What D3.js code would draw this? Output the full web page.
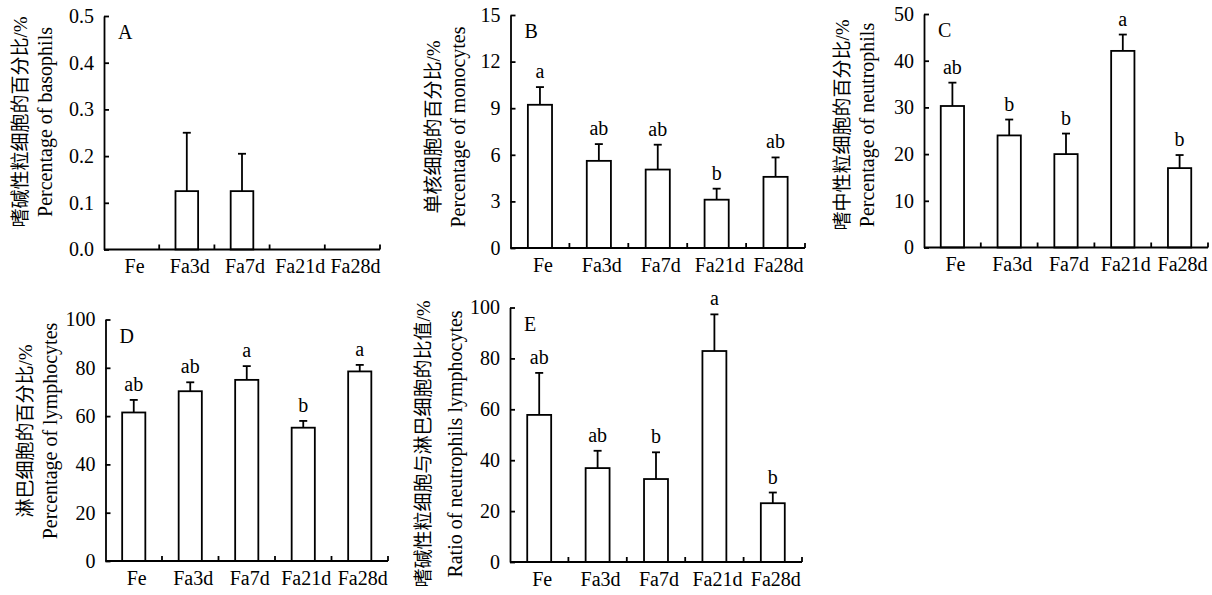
<!DOCTYPE html>
<html><head><meta charset="utf-8">
<script src="https://cdn.jsdelivr.net/npm/d3@7"></script>
<style>
html,body{margin:0;padding:0;background:#fff;}
svg{display:block;}
</style></head>
<body>
<svg id="chart" width="1212" height="595"></svg>
<script>
// ---- data ----
const categories = ["Fe","Fa3d","Fa7d","Fa21d","Fa28d"];

const basophilMean = [0, 0.125, 0.125, 0, 0];
const basophilErr  = [0, 0.125, 0.08, 0, 0];
const basophilLetters = ["","","","",""];
const basophilTicks = [0,0.1,0.2,0.3,0.4,0.5];

const monocyteMean = [9.22, 5.61, 5.05, 3.11, 4.58];
const monocyteErr  = [1.14, 1.08, 1.60, 0.71, 1.25];
const monocyteLetters = ["a","ab","ab","b","ab"];
const monocyteTicks = [0,3,6,9,12,15];

const neutrophilMean = [30.3, 24.0, 20.0, 42.1, 17.0];
const neutrophilErr  = [5.0, 3.4, 4.4, 3.5, 2.8];
const neutrophilLetters = ["ab","b","b","a","b"];
const neutrophilTicks = [0,10,20,30,40,50];

const lymphocyteMean = [61.5, 70.3, 75.0, 55.2, 78.5];
const lymphocyteErr  = [5.2, 3.7, 5.7, 2.8, 2.7];
const lymphocyteLetters = ["ab","ab","a","b","a"];
const lymphocyteTicks = [0,20,40,60,80,100];

const ratioMean = [57.8, 36.9, 32.6, 82.9, 23.1];
const ratioErr  = [16.5, 6.8, 10.5, 14.4, 4.2];
const ratioLetters = ["ab","ab","b","a","b"];
const ratioTicks = [0,20,40,60,80,100];

// ---- layout ----
const panels = [
  {id:"A", mean:basophilMean, err:basophilErr, letters:basophilLetters, ticks:basophilTicks, fmt:d3.format(".1f"),
   cn:"嗜碱性粒细胞的百分比/%", en:"Percentage of basophils",
   x0:104, x1:380, yTop:16, yBot:249.5, cnX:20, enX:45, labY:122},
  {id:"B", mean:monocyteMean, err:monocyteErr, letters:monocyteLetters, ticks:monocyteTicks, fmt:d3.format("d"),
   cn:"单核细胞的百分比/%", en:"Percentage of monocytes",
   x0:510.5, x1:805, yTop:15, yBot:248, cnX:433, enX:458, labY:127},
  {id:"C", mean:neutrophilMean, err:neutrophilErr, letters:neutrophilLetters, ticks:neutrophilTicks, fmt:d3.format("d"),
   cn:"嗜中性粒细胞的百分比/%", en:"Percentage of neutrophils",
   x0:924, x1:1208, yTop:14, yBot:247.5, cnX:842, enX:867, labY:125},
  {id:"D", mean:lymphocyteMean, err:lymphocyteErr, letters:lymphocyteLetters, ticks:lymphocyteTicks, fmt:d3.format("d"),
   cn:"淋巴细胞的百分比/%", en:"Percentage of lymphocytes",
   x0:105.5, x1:388, yTop:319.5, yBot:561, cnX:25, enX:50, labY:431},
  {id:"E", mean:ratioMean, err:ratioErr, letters:ratioLetters, ticks:ratioTicks, fmt:d3.format("d"),
   cn:"嗜碱性粒细胞与淋巴细胞的比值/%", en:"Ratio of neutrophils lymphocytes",
   x0:510, x1:802, yTop:307.5, yBot:562, cnX:423, enX:455, labY:444}
];

const SERIF = "'Liberation Serif','Times New Roman',serif";
const MIXED = "'Liberation Serif','Noto Sans CJK SC',serif";
const SW = 1.8;
const svg = d3.select("#chart");

panels.forEach(p => {
  const g = svg.append("g");
  const x = d3.scaleBand().domain(categories).range([p.x0, p.x1]).padding(0);
  const y = d3.scaleLinear().domain([p.ticks[0], p.ticks[p.ticks.length-1]]).range([p.yBot, p.yTop]);
  const bw = x.bandwidth()*0.41;

  // bars
  categories.forEach((c,i) => {
    const v = p.mean[i];
    if (v <= 0) return;
    const cx = x(c) + x.bandwidth()/2;
    g.append("rect").attr("x", cx-bw/2).attr("y", y(v)).attr("width", bw).attr("height", y(0)-y(v))
      .attr("fill","#fff").attr("stroke","#000").attr("stroke-width",SW);
    const et = v + p.err[i];
    g.append("line").attr("x1",cx).attr("x2",cx).attr("y1",y(v)).attr("y2",y(et))
      .attr("stroke","#000").attr("stroke-width",SW);
    g.append("line").attr("x1",cx-4).attr("x2",cx+4).attr("y1",y(et)).attr("y2",y(et))
      .attr("stroke","#000").attr("stroke-width",SW);
    if (p.letters[i]) {
      g.append("text").attr("x",cx).attr("y",y(et)-9).attr("text-anchor","middle")
        .attr("font-family",SERIF).attr("font-size",20).text(p.letters[i]);
    }
  });

  // y axis (inward ticks)
  const ya = g.append("g").attr("transform",`translate(${p.x0},0)`)
    .call(d3.axisRight(y).tickValues(p.ticks).tickSize(5).tickSizeOuter(0).tickFormat(""));
  ya.select(".domain").attr("stroke-width",SW);
  ya.selectAll(".tick line").attr("stroke-width",SW);
  p.ticks.forEach(t => {
    g.append("text").attr("x",p.x0-10).attr("y",y(t)).attr("dy","0.34em").attr("text-anchor","end")
      .attr("font-family",SERIF).attr("font-size",20).text(p.fmt(t));
  });

  // x axis (inward ticks at band boundaries)
  g.append("line").attr("x1",p.x0).attr("x2",p.x1).attr("y1",p.yBot).attr("y2",p.yBot)
    .attr("stroke","#000").attr("stroke-width",SW);
  categories.forEach((c,i) => {
    const bx = x(c) + x.bandwidth();
    g.append("line").attr("x1",bx).attr("x2",bx).attr("y1",p.yBot).attr("y2",p.yBot-5)
      .attr("stroke","#000").attr("stroke-width",SW);
    g.append("text").attr("x",x(c)+x.bandwidth()/2+3).attr("y",p.yBot+23.5).attr("text-anchor","middle")
      .attr("font-family",SERIF).attr("font-size",20).text(c);
  });

  // panel letter
  g.append("text").attr("x",p.x0+14).attr("y",p.yTop+23).attr("font-family",SERIF).attr("font-size",20).text(p.id);

  // y labels
  g.append("text").attr("transform",`translate(${p.cnX},${p.labY}) rotate(-90)`)
    .attr("text-anchor","middle").attr("dy","0.35em").attr("font-family",MIXED).attr("font-size",19).text(p.cn);
  g.append("text").attr("transform",`translate(${p.enX},${p.labY}) rotate(-90)`)
    .attr("text-anchor","middle").attr("dy","0.35em").attr("font-family",SERIF).attr("font-size",20).text(p.en);
});
</script>
</body></html>
